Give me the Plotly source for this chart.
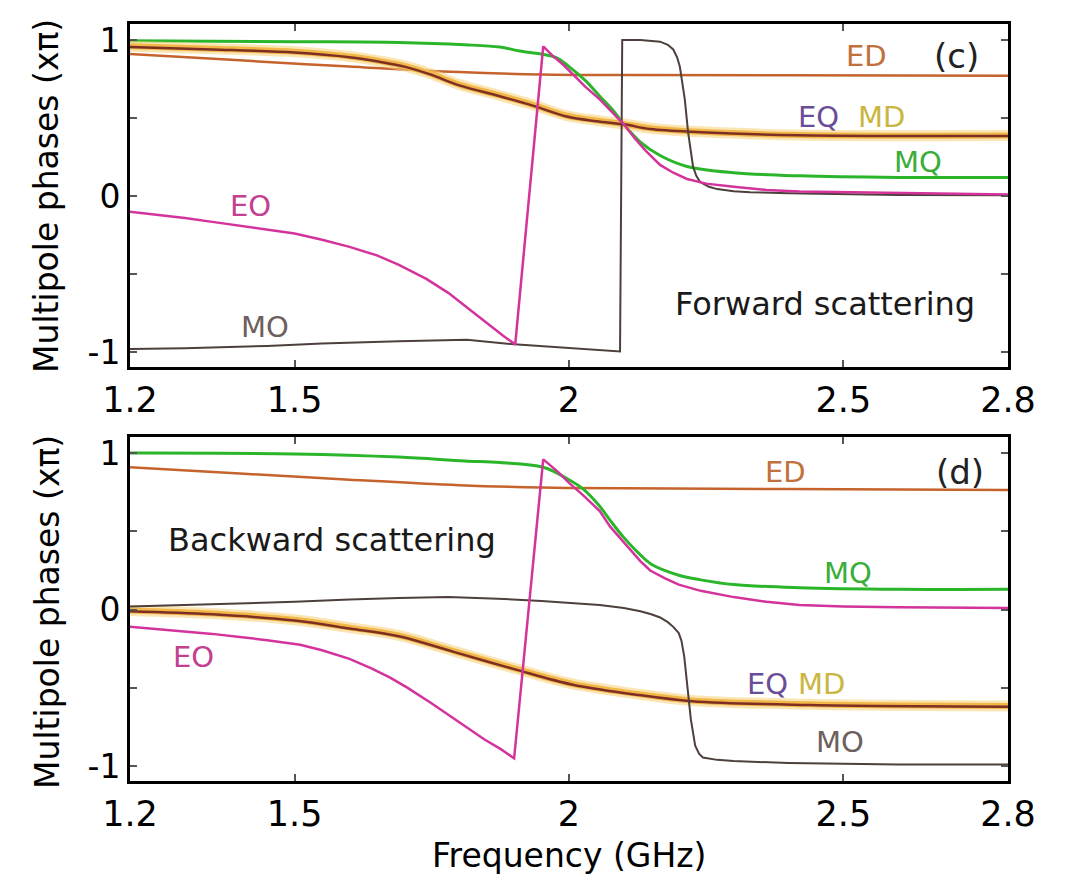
import plotly.graph_objects as go

# ---------------- data (phase in units of pi) ----------------
# panel (c) forward scattering
f_c_ED = [1.2, 1.4, 1.6, 1.8, 1.95, 2.1, 2.4, 2.8]
v_c_ED = [0.91, 0.87, 0.83, 0.795, 0.78, 0.776, 0.774, 0.772]

f_c_MQ = [1.2, 1.5, 1.69, 1.81, 1.874, 1.91, 1.975, 2.0, 2.03, 2.056, 2.08, 2.1, 2.129, 2.166, 2.215, 2.3, 2.42, 2.6, 2.8]
v_c_MQ = [0.995, 0.99, 0.985, 0.97, 0.955, 0.93, 0.89, 0.83, 0.74, 0.64, 0.55, 0.46, 0.35, 0.26, 0.19, 0.15, 0.13, 0.12, 0.12]

f_c_EO = [1.2, 1.25, 1.3, 1.35, 1.4, 1.45, 1.5, 1.55, 1.6, 1.65, 1.69, 1.74, 1.78, 1.82, 1.856, 1.88, 1.902,
          1.953, 1.97, 1.99, 2.01, 2.03, 2.056, 2.08, 2.1, 2.12, 2.14, 2.166, 2.19, 2.215, 2.25, 2.3, 2.36,
          2.42, 2.5, 2.6, 2.7, 2.8]
v_c_EO = [-0.10, -0.12, -0.14, -0.165, -0.19, -0.215, -0.24, -0.28, -0.325, -0.38, -0.44, -0.53, -0.62, -0.73, -0.83, -0.895, -0.95,
          0.96, 0.90, 0.84, 0.77, 0.70, 0.62, 0.53, 0.46, 0.37, 0.29, 0.20, 0.15, 0.11, 0.08, 0.06, 0.04,
          0.03, 0.025, 0.02, 0.015, 0.01]

f_c_MO = [1.2, 1.3, 1.45, 1.55, 1.69, 1.814, 1.90, 2.0, 2.093, 2.097, 2.13, 2.166, 2.18, 2.19, 2.197, 2.202, 2.207,
          2.211, 2.217, 2.222, 2.226, 2.232, 2.239, 2.255, 2.27, 2.3, 2.33, 2.4, 2.48, 2.6, 2.8]
v_c_MO = [-0.98, -0.975, -0.96, -0.945, -0.93, -0.92, -0.95, -0.975, -0.995, 1.0, 1.0, 0.99, 0.97, 0.94, 0.89, 0.83, 0.72,
          0.62, 0.41, 0.28, 0.19, 0.13, 0.09, 0.06, 0.045, 0.032, 0.025, 0.018, 0.013, 0.008, 0.005]

f_c_EQ = [1.2, 1.35, 1.5, 1.6, 1.656, 1.7, 1.747, 1.8, 1.874, 1.934, 1.996, 2.05, 2.1, 2.148, 2.24, 2.42, 2.8]
v_c_EQ = [0.955, 0.94, 0.92, 0.89, 0.86, 0.83, 0.78, 0.71, 0.64, 0.58, 0.51, 0.48, 0.46, 0.43, 0.41, 0.39, 0.385]

f_c_MD = [1.2, 1.35, 1.5, 1.6, 1.656, 1.7, 1.747, 1.8, 1.874, 1.934, 1.996, 2.05, 2.1, 2.148, 2.24, 2.42, 2.8]
v_c_MD = [0.96, 0.945, 0.925, 0.895, 0.865, 0.835, 0.785, 0.715, 0.645, 0.585, 0.515, 0.485, 0.462, 0.435, 0.412, 0.392, 0.388]

# panel (d) backward scattering
f_d_ED = [1.2, 1.4, 1.6, 1.8, 1.95, 2.1, 2.4, 2.8]
v_d_ED = [0.91, 0.87, 0.83, 0.795, 0.78, 0.775, 0.77, 0.765]

f_d_MQ = [1.2, 1.5, 1.69, 1.81, 1.874, 1.953, 2.0, 2.026, 2.056, 2.075, 2.1, 2.13, 2.15, 2.2, 2.24, 2.3, 2.42, 2.6, 2.8]
v_d_MQ = [1.0, 0.995, 0.975, 0.95, 0.94, 0.91, 0.83, 0.77, 0.66, 0.57, 0.46, 0.35, 0.29, 0.22, 0.19, 0.16, 0.14, 0.13, 0.13]

f_d_EO = [1.2, 1.25, 1.3, 1.35, 1.4, 1.45, 1.51, 1.55, 1.6, 1.64, 1.674, 1.706, 1.75, 1.792, 1.82, 1.846, 1.875, 1.90,
          1.953, 1.98, 2.0, 2.026, 2.056, 2.075, 2.1, 2.115, 2.13, 2.148, 2.175, 2.2, 2.24, 2.3, 2.36, 2.42, 2.5,
          2.6, 2.8]
v_d_EO = [-0.11, -0.125, -0.14, -0.155, -0.175, -0.195, -0.225, -0.26, -0.315, -0.375, -0.435, -0.50, -0.60, -0.70, -0.77, -0.83, -0.89, -0.95,
          0.96, 0.88, 0.81, 0.73, 0.63, 0.53, 0.43, 0.37, 0.31, 0.25, 0.20, 0.16, 0.12, 0.08, 0.05, 0.03, 0.02,
          0.015, 0.01]

f_d_MO = [1.2, 1.3, 1.4, 1.5, 1.6, 1.69, 1.78, 1.87, 1.95, 2.0, 2.056, 2.1, 2.13, 2.15, 2.166, 2.18, 2.19, 2.2, 2.205,
          2.21, 2.215, 2.222, 2.23, 2.237, 2.244, 2.27, 2.3, 2.4, 2.5, 2.6, 2.8]
v_d_MO = [0.02, 0.03, 0.04, 0.05, 0.065, 0.075, 0.08, 0.07, 0.055, 0.045, 0.03, 0.01, -0.01, -0.03, -0.05, -0.08, -0.11, -0.15, -0.20,
          -0.30, -0.45, -0.70, -0.87, -0.92, -0.945, -0.96, -0.968, -0.98, -0.985, -0.99, -0.99]

f_d_EQ = [1.2, 1.35, 1.5, 1.6, 1.69, 1.79, 1.9, 2.007, 2.116, 2.224, 2.44, 2.8]
v_d_EQ = [-0.01, -0.03, -0.07, -0.12, -0.17, -0.27, -0.38, -0.48, -0.54, -0.585, -0.61, -0.62]

f_d_MD = [1.2, 1.35, 1.5, 1.6, 1.69, 1.79, 1.9, 2.007, 2.116, 2.224, 2.44, 2.8]
v_d_MD = [-0.005, -0.025, -0.065, -0.115, -0.165, -0.265, -0.375, -0.475, -0.535, -0.58, -0.605, -0.615]

x_ticks = [1.2, 1.5, 2.0, 2.5, 2.8]
x_ticktext = ["1.2", "1.5", "2", "2.5", "2.8"]
y_ticks = [-1, -0.5, 0, 0.5, 1]
y_ticktext = ["-1", "", "0", "", "1"]

# ---------------- styles ----------------
COL = {
    "ED": "#c6632d", "MQ": "#2bb52b", "EO": "#d3339b",
    "MO": "#4d3f3b", "MD": "#f3b748", "EQ": "#7d2f24",
}
LBL = {
    "ED": "#c0703c", "MQ": "#3aad3a", "EO": "#c2408f",
    "MO": "#6e605c", "EQ": "#6a4d98", "MD": "#cbb542",
}
FONT = "DejaVu Sans"

fig = go.Figure()


def add_panel(xa, ya, d):
    sp = dict(shape="spline", smoothing=1.0)
    fig.add_trace(go.Scatter(x=d["ED"][0], y=d["ED"][1], mode="lines", xaxis=xa, yaxis=ya,
                             line=dict(color=COL["ED"], width=2.5, **sp), showlegend=False))
    fig.add_trace(go.Scatter(x=d["MQ"][0], y=d["MQ"][1], mode="lines", xaxis=xa, yaxis=ya,
                             line=dict(color=COL["MQ"], width=3, **sp), showlegend=False))
    fig.add_trace(go.Scatter(x=d["MD"][0], y=d["MD"][1], mode="lines", xaxis=xa, yaxis=ya, opacity=0.55,
                             line=dict(color="#f7d37a", width=11, **sp), showlegend=False))
    fig.add_trace(go.Scatter(x=d["MD"][0], y=d["MD"][1], mode="lines", xaxis=xa, yaxis=ya,
                             line=dict(color=COL["MD"], width=6, **sp), showlegend=False))
    fig.add_trace(go.Scatter(x=d["EQ"][0], y=d["EQ"][1], mode="lines", xaxis=xa, yaxis=ya,
                             line=dict(color=COL["EQ"], width=2.5, **sp), showlegend=False))
    fig.add_trace(go.Scatter(x=d["MO"][0], y=d["MO"][1], mode="lines", xaxis=xa, yaxis=ya,
                             line=dict(color=COL["MO"], width=2), showlegend=False))
    fig.add_trace(go.Scatter(x=d["EO"][0], y=d["EO"][1], mode="lines", xaxis=xa, yaxis=ya,
                             line=dict(color=COL["EO"], width=2.5), showlegend=False))


add_panel("x", "y", {"ED": (f_c_ED, v_c_ED), "MQ": (f_c_MQ, v_c_MQ), "EO": (f_c_EO, v_c_EO),
                     "MO": (f_c_MO, v_c_MO), "EQ": (f_c_EQ, v_c_EQ), "MD": (f_c_MD, v_c_MD)})
add_panel("x2", "y2", {"ED": (f_d_ED, v_d_ED), "MQ": (f_d_MQ, v_d_MQ), "EO": (f_d_EO, v_d_EO),
                       "MO": (f_d_MO, v_d_MO), "EQ": (f_d_EQ, v_d_EQ), "MD": (f_d_MD, v_d_MD)})

axis_common = dict(showgrid=False, zeroline=False, showline=True, linecolor="black", linewidth=3,
                   mirror="allticks", ticks="inside", ticklen=7, tickwidth=1.5, tickcolor="#555555",
                   automargin=False)
yr = [-1.095, 1.103]

# plot area: left 130, right 1008, top 24, bottom 781 (px)
fig.update_layout(
    width=1071, height=882,
    margin=dict(l=130, r=63, t=24, b=101),
    paper_bgcolor="white", plot_bgcolor="white",
    font=dict(family=FONT, color="black"),
    xaxis=dict(domain=[0, 1], range=[1.2, 2.8], anchor="y", tickvals=x_ticks, ticktext=x_ticktext,
               tickfont=dict(size=35, family=FONT), **axis_common),
    yaxis=dict(domain=[(781 - 367) / 757, 1], range=yr, anchor="x", tickvals=y_ticks,
               ticktext=y_ticktext, tickfont=dict(size=33, family=FONT), **axis_common),
    xaxis2=dict(domain=[0, 1], range=[1.2, 2.8], anchor="y2", tickvals=x_ticks, ticktext=x_ticktext,
                tickfont=dict(size=35, family=FONT), **axis_common),
    yaxis2=dict(domain=[0, (781 - 437) / 757], range=yr, anchor="x2", tickvals=y_ticks,
                ticktext=y_ticktext, tickfont=dict(size=33, family=FONT), **axis_common),
)


def label(text, x, y, color, size=29, xref="x", yref="y", **kw):
    fig.add_annotation(text=text, x=x, y=y, xref=xref, yref=yref, showarrow=False,
                       font=dict(size=size, color=color, family=FONT), **kw)


# panel (c) labels
label("ED", 2.543, 0.897, LBL["ED"])
label("(c)", 2.707, 0.897, "#222222", size=34)
label("EQ", 2.454, 0.506, LBL["EQ"])
label("MD", 2.570, 0.506, LBL["MD"])
label("MQ", 2.636, 0.218, LBL["MQ"])
label("Forward scattering", 2.466, -0.69, "#1a1a1a", size=32)
label("EO", 1.419, -0.064, LBL["EO"])
label("MO", 1.446, -0.84, LBL["MO"])

# panel (d) labels
label("ED", 2.394, 0.879, LBL["ED"], xref="x2", yref="y2")
label("(d)", 2.713, 0.879, "#222222", size=34, xref="x2", yref="y2")
label("MQ", 2.508, 0.236, LBL["MQ"], xref="x2", yref="y2")
label("Backward scattering", 1.568, 0.446, "#1a1a1a", size=32, xref="x2", yref="y2")
label("EO", 1.315, -0.30, LBL["EO"], xref="x2", yref="y2")
label("EQ", 2.361, -0.478, LBL["EQ"], xref="x2", yref="y2")
label("MD", 2.461, -0.478, LBL["MD"], xref="x2", yref="y2")
label("MO", 2.494, -0.847, LBL["MO"], xref="x2", yref="y2")


def px(xp):
    return (xp - 130) / 878


def py(yp):
    return (781 - yp) / 757


# axis titles
label("Multipole phases (x\u03c0)", px(47), py(196), "black", size=33,
      xref="paper", yref="paper", textangle=-90, xanchor="center", yanchor="middle")
label("Multipole phases (x\u03c0)", px(47), py(612), "black", size=33,
      xref="paper", yref="paper", textangle=-90, xanchor="center", yanchor="middle")
label("Frequency (GHz)", px(569), py(855), "black", size=33,
      xref="paper", yref="paper", xanchor="center", yanchor="middle")

fig.write_html("out.html")
